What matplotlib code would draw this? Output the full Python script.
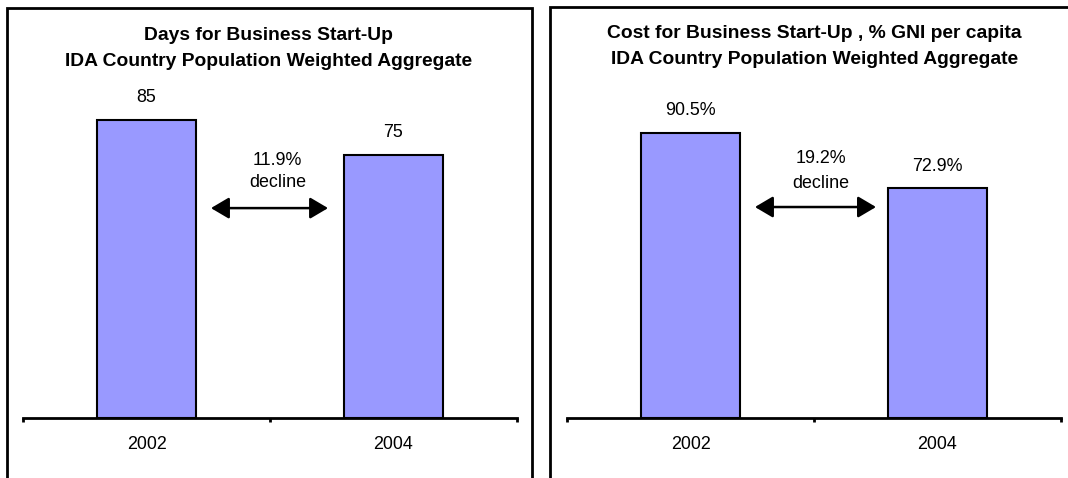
import matplotlib
matplotlib.use("Agg")
import matplotlib.pyplot as plt
from matplotlib.patches import Rectangle

# ---- data ----
years = ["2002", "2004"]
days_values = [85, 75]
days_labels = ["85", "75"]
cost_values = [90.5, 72.9]
cost_labels = ["90.5%", "72.9%"]
decline_labels = ["11.9%", "19.2%"]
titles = [
    "Days for Business Start-Up\nIDA Country Population Weighted Aggregate",
    "Cost for Business Start-Up , % GNI per capita\nIDA Country Population Weighted Aggregate",
]

W, H = 1068, 478
DPI = 100
plt.rcParams['font.family'] = ['Liberation Sans', 'DejaVu Sans']

fig = plt.figure(figsize=(W / DPI, H / DPI), dpi=DPI)
fig.patch.set_facecolor("white")


def fx(px):
    return px / W


def fy(py):
    return 1 - py / H


BAR_COLOR = "#9999FF"
TITLE_FS = 13.9
TEXT_FS = 12.9

panels = [
    dict(box=(7, 8, 532), ax=(23, 517), ymax=100.0, vals=days_values, labs=days_labels,
         title=titles[0], tx=268.7, ty=(35, 61), dec=decline_labels[0],
         arrow=(0.261, 0.735, 59.8), dtext=(0.531, 73.5, 67.0)),
    dict(box=(550, 7, 1080), ax=(567, 1061), ymax=111.3, vals=cost_values, labs=cost_labels,
         title=titles[1], tx=814.5, ty=(33, 59), dec=decline_labels[1],
         arrow=(0.261, 0.751, 66.9), dtext=(0.528, 82.4, 74.5)),
]

AX_BOTTOM = 418
AX_TOP = 67

for p in panels:
    x0, y0, x1 = p["box"]
    rect = Rectangle((fx(x0), fy(500)), fx(x1) - fx(x0), fy(y0) - fy(500),
                     transform=fig.transFigure, fill=False, edgecolor="black",
                     linewidth=2.0, clip_on=False)
    fig.patches.append(rect)

    a0, a1 = p["ax"]
    ax = fig.add_axes([fx(a0), fy(AX_BOTTOM), fx(a1) - fx(a0), fy(AX_TOP) - fy(AX_BOTTOM)])
    ax.set_facecolor("none")
    xs = list(range(len(years)))
    ax.bar(xs, p["vals"], width=0.4, color=BAR_COLOR, edgecolor="black", linewidth=1.5, zorder=2)
    ax.set_xlim(-0.5, 1.5)
    ax.set_ylim(0, p["ymax"])
    for s in ["top", "right", "left"]:
        ax.spines[s].set_visible(False)
    ax.spines["bottom"].set_linewidth(2.0)
    ax.spines["bottom"].set_zorder(3)
    ax.set_yticks([])
    ax.set_xticks([-0.5, 0.5, 1.5])
    ax.set_xticklabels([])
    ax.tick_params(axis="x", which="major", direction="out", length=3, width=2.0)
    ax.set_xticks(xs, minor=True)
    ax.set_xticklabels(years, minor=True, fontsize=TEXT_FS)
    ax.tick_params(axis="x", which="minor", length=0, pad=13)

    for x, v, lab in zip(xs, p["vals"], p["labs"]):
        ax.annotate(lab, (x, v), xytext=(0, 15.8), textcoords="offset points",
                    ha="center", va="center", fontsize=TEXT_FS)

    ax0, ax1, ay = p["arrow"]
    ax.annotate("", xy=(ax1, ay), xytext=(ax0, ay),
                arrowprops=dict(arrowstyle="<|-|>,head_length=1.1,head_width=0.65",
                                mutation_scale=10, lw=1.8, color="black",
                                shrinkA=0, shrinkB=0))
    dx, dy1, dy2 = p["dtext"]
    ax.text(dx, dy1, p["dec"], ha="center", va="center", fontsize=TEXT_FS)
    ax.text(dx, dy2, "decline", ha="center", va="center", fontsize=TEXT_FS)

    t1, t2 = p["title"].split("\n")
    fig.text(fx(p["tx"]), fy(p["ty"][0]), t1, ha="center", va="center",
             fontsize=TITLE_FS, fontweight="bold")
    fig.text(fx(p["tx"]), fy(p["ty"][1]), t2, ha="center", va="center",
             fontsize=TITLE_FS, fontweight="bold")

fig.savefig("out.png", dpi=DPI)
